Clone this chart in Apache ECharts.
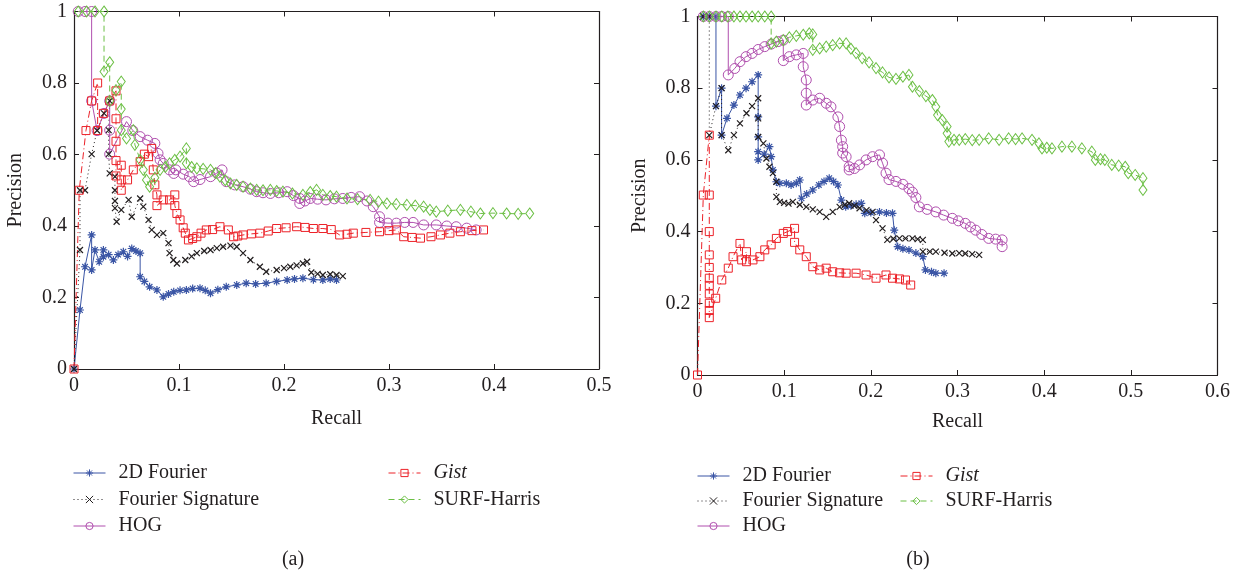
<!DOCTYPE html>
<html>
<head>
<meta charset="utf-8">
<script src="https://cdn.jsdelivr.net/npm/echarts@6/dist/echarts.min.js"></script>
<style>
  html, body { margin: 0; padding: 0; background: #fff; }
  #main { width: 1233px; height: 573px; }
</style>
</head>
<body>
<div id="main"></div>
<script>
// series names
var names = ['2D Fourier', 'Fourier Signature', 'HOG', 'Gist', 'SURF-Harris'];

// ---- (a) ---- [recall, precision]
var fourier2dA = [[0,0],[0.0057,0.165],[0.0105,0.286],[0.0168,0.375],[0.0168,0.277],[0.02,0.333],[0.024,0.3],[0.028,0.333],[0.028,0.314],[0.033,0.32],[0.0375,0.305],[0.042,0.32],[0.047,0.328],[0.051,0.315],[0.055,0.337],[0.059,0.33],[0.063,0.324],[0.063,0.258],[0.067,0.245],[0.072,0.23],[0.079,0.221],[0.085,0.202],[0.09,0.21],[0.095,0.216],[0.101,0.22],[0.107,0.221],[0.113,0.225],[0.12,0.226],[0.125,0.22],[0.13,0.212],[0.137,0.222],[0.145,0.23],[0.155,0.235],[0.164,0.24],[0.173,0.238],[0.183,0.24],[0.193,0.245],[0.203,0.249],[0.21,0.252],[0.218,0.254],[0.228,0.25],[0.237,0.249],[0.244,0.252],[0.25,0.249]];
var fourierSigA = [[0,0],[0.0057,0.333],[0.0057,0.5],[0.0105,0.5],[0.0168,0.601],[0.022,0.667],[0.0286,0.715],[0.034,0.75],[0.033,0.668],[0.033,0.601],[0.034,0.547],[0.039,0.538],[0.039,0.5],[0.039,0.47],[0.039,0.45],[0.0406,0.412],[0.045,0.445],[0.052,0.473],[0.055,0.426],[0.063,0.477],[0.066,0.454],[0.071,0.417],[0.074,0.389],[0.079,0.375],[0.085,0.38],[0.09,0.352],[0.091,0.324],[0.0946,0.305],[0.098,0.295],[0.106,0.305],[0.112,0.315],[0.117,0.324],[0.124,0.33],[0.13,0.333],[0.136,0.338],[0.142,0.342],[0.149,0.345],[0.155,0.342],[0.161,0.324],[0.168,0.305],[0.177,0.286],[0.183,0.272],[0.193,0.277],[0.2,0.282],[0.206,0.286],[0.212,0.29],[0.218,0.295],[0.222,0.3],[0.226,0.27],[0.232,0.266],[0.237,0.263],[0.244,0.265],[0.25,0.263],[0.256,0.26]];
var hogA = [[0.004,1],[0.0105,1],[0.0168,1],[0.0168,0.75],[0.022,0.667],[0.0286,0.715],[0.034,0.75],[0.034,0.668],[0.034,0.601],[0.05,0.692],[0.056,0.667],[0.063,0.65],[0.07,0.64],[0.077,0.631],[0.08,0.603],[0.082,0.585],[0.085,0.575],[0.091,0.557],[0.095,0.547],[0.097,0.557],[0.104,0.545],[0.11,0.538],[0.114,0.524],[0.12,0.53],[0.13,0.538],[0.136,0.548],[0.141,0.557],[0.145,0.524],[0.153,0.515],[0.161,0.51],[0.168,0.503],[0.174,0.496],[0.18,0.493],[0.187,0.491],[0.195,0.493],[0.203,0.496],[0.209,0.485],[0.215,0.477],[0.215,0.463],[0.22,0.47],[0.225,0.477],[0.232,0.475],[0.24,0.473],[0.248,0.476],[0.256,0.477],[0.264,0.48],[0.272,0.482],[0.279,0.47],[0.285,0.454],[0.291,0.426],[0.291,0.41],[0.299,0.408],[0.307,0.408],[0.315,0.41],[0.323,0.41],[0.333,0.403],[0.345,0.403],[0.355,0.4],[0.364,0.398],[0.374,0.394],[0.383,0.389]];
var gistA = [[0,0],[0.005,0.5],[0.0114,0.667],[0.0168,0.75],[0.0225,0.8],[0.0225,0.667],[0.028,0.715],[0.034,0.75],[0.04,0.778],[0.04,0.7],[0.04,0.637],[0.04,0.583],[0.04,0.54],[0.045,0.57],[0.045,0.529],[0.045,0.5],[0.051,0.529],[0.0565,0.557],[0.063,0.58],[0.067,0.601],[0.071,0.594],[0.074,0.617],[0.0755,0.557],[0.077,0.515],[0.079,0.487],[0.079,0.457],[0.085,0.473],[0.091,0.473],[0.096,0.487],[0.096,0.457],[0.098,0.435],[0.101,0.417],[0.104,0.395],[0.106,0.38],[0.109,0.361],[0.113,0.365],[0.117,0.37],[0.121,0.38],[0.126,0.389],[0.132,0.39],[0.139,0.398],[0.147,0.389],[0.152,0.37],[0.156,0.372],[0.161,0.375],[0.169,0.378],[0.177,0.38],[0.185,0.386],[0.193,0.393],[0.202,0.395],[0.212,0.398],[0.22,0.396],[0.228,0.393],[0.237,0.393],[0.245,0.39],[0.253,0.375],[0.26,0.377],[0.266,0.38],[0.278,0.382],[0.291,0.384],[0.3,0.387],[0.307,0.389],[0.314,0.37],[0.322,0.368],[0.33,0.366],[0.34,0.37],[0.349,0.375],[0.358,0.38],[0.368,0.384],[0.379,0.387],[0.39,0.389]];
var surfA = [[0.004,1],[0.012,1],[0.02,1],[0.0286,1],[0.0286,0.832],[0.034,0.858],[0.034,0.75],[0.04,0.78],[0.045,0.804],[0.045,0.727],[0.045,0.668],[0.05,0.645],[0.0565,0.668],[0.058,0.627],[0.063,0.585],[0.066,0.557],[0.069,0.529],[0.072,0.51],[0.077,0.535],[0.082,0.557],[0.087,0.565],[0.091,0.575],[0.096,0.585],[0.101,0.594],[0.107,0.617],[0.107,0.575],[0.112,0.565],[0.117,0.561],[0.123,0.56],[0.13,0.557],[0.135,0.548],[0.139,0.538],[0.144,0.528],[0.149,0.519],[0.155,0.515],[0.161,0.51],[0.168,0.505],[0.174,0.501],[0.18,0.5],[0.187,0.501],[0.193,0.498],[0.199,0.496],[0.208,0.491],[0.218,0.487],[0.225,0.495],[0.231,0.501],[0.237,0.487],[0.244,0.484],[0.25,0.482],[0.26,0.477],[0.27,0.475],[0.282,0.473],[0.29,0.468],[0.298,0.463],[0.307,0.461],[0.317,0.459],[0.325,0.457],[0.333,0.454],[0.339,0.445],[0.345,0.44],[0.356,0.443],[0.368,0.445],[0.378,0.44],[0.387,0.435],[0.399,0.436],[0.412,0.435],[0.423,0.434],[0.434,0.435]];

// ---- (b) ----
var fourier2dB = [[0.0067,1],[0.0136,1],[0.0213,1],[0.0213,0.75],[0.0278,0.8],[0.0278,0.669],[0.034,0.716],[0.042,0.753],[0.049,0.781],[0.056,0.8],[0.063,0.818],[0.07,0.837],[0.07,0.72],[0.07,0.664],[0.07,0.623],[0.07,0.6],[0.077,0.616],[0.083,0.637],[0.085,0.609],[0.087,0.572],[0.091,0.539],[0.095,0.535],[0.1025,0.535],[0.108,0.53],[0.114,0.535],[0.118,0.544],[0.12,0.493],[0.126,0.505],[0.133,0.516],[0.14,0.53],[0.146,0.54],[0.152,0.549],[0.157,0.54],[0.162,0.53],[0.166,0.488],[0.171,0.469],[0.177,0.472],[0.183,0.476],[0.189,0.479],[0.193,0.451],[0.2,0.453],[0.21,0.455],[0.218,0.452],[0.225,0.451],[0.227,0.404],[0.231,0.358],[0.237,0.352],[0.244,0.349],[0.252,0.34],[0.26,0.33],[0.263,0.293],[0.27,0.288],[0.275,0.284],[0.2845,0.284]];
var fourierSigB = [[0.0067,1],[0.0136,1],[0.0136,0.669],[0.0213,0.75],[0.0278,0.8],[0.0278,0.669],[0.0355,0.627],[0.042,0.669],[0.049,0.702],[0.0565,0.73],[0.063,0.75],[0.07,0.772],[0.07,0.716],[0.07,0.664],[0.076,0.646],[0.0795,0.604],[0.083,0.581],[0.087,0.563],[0.091,0.539],[0.091,0.497],[0.095,0.483],[0.1,0.48],[0.105,0.478],[0.11,0.483],[0.118,0.475],[0.1255,0.469],[0.133,0.462],[0.141,0.455],[0.1485,0.441],[0.156,0.455],[0.164,0.469],[0.17,0.475],[0.175,0.479],[0.181,0.472],[0.187,0.465],[0.195,0.46],[0.202,0.455],[0.206,0.432],[0.2135,0.409],[0.219,0.377],[0.226,0.38],[0.233,0.381],[0.24,0.381],[0.248,0.381],[0.254,0.379],[0.26,0.377],[0.26,0.344],[0.268,0.344],[0.275,0.344],[0.285,0.341],[0.294,0.339],[0.302,0.34],[0.309,0.339],[0.317,0.337],[0.325,0.335]];
var hogB = [[0.0067,1],[0.0136,1],[0.0213,1],[0.028,1],[0.0355,1],[0.0355,0.837],[0.043,0.855],[0.049,0.874],[0.056,0.888],[0.063,0.897],[0.07,0.908],[0.0776,0.916],[0.085,0.923],[0.093,0.93],[0.099,0.934],[0.099,0.877],[0.106,0.888],[0.114,0.893],[0.122,0.897],[0.122,0.86],[0.1255,0.823],[0.1255,0.786],[0.1255,0.753],[0.133,0.767],[0.141,0.772],[0.1485,0.758],[0.154,0.748],[0.162,0.72],[0.164,0.693],[0.166,0.655],[0.1675,0.637],[0.1675,0.619],[0.1715,0.609],[0.175,0.581],[0.175,0.572],[0.181,0.576],[0.187,0.586],[0.1945,0.6],[0.202,0.609],[0.21,0.614],[0.2135,0.591],[0.2175,0.563],[0.221,0.545],[0.229,0.54],[0.237,0.532],[0.244,0.52],[0.248,0.51],[0.252,0.495],[0.256,0.469],[0.265,0.462],[0.275,0.455],[0.284,0.446],[0.294,0.437],[0.301,0.43],[0.309,0.423],[0.315,0.413],[0.321,0.404],[0.328,0.392],[0.336,0.381],[0.344,0.379],[0.3515,0.377],[0.3515,0.358]];
var gistB = [[0,0],[0.0067,0.502],[0.0136,0.669],[0.0136,0.502],[0.0136,0.4],[0.0136,0.335],[0.0136,0.3],[0.0136,0.27],[0.0136,0.25],[0.0136,0.226],[0.0136,0.2],[0.0136,0.18],[0.0136,0.16],[0.021,0.214],[0.028,0.265],[0.0355,0.298],[0.041,0.33],[0.049,0.367],[0.051,0.321],[0.0565,0.344],[0.0565,0.316],[0.064,0.321],[0.072,0.33],[0.0776,0.349],[0.085,0.363],[0.091,0.381],[0.099,0.395],[0.104,0.4],[0.112,0.409],[0.112,0.37],[0.118,0.349],[0.1255,0.33],[0.133,0.302],[0.141,0.293],[0.1485,0.298],[0.156,0.288],[0.164,0.285],[0.1715,0.284],[0.183,0.284],[0.1945,0.279],[0.206,0.27],[0.2175,0.279],[0.225,0.27],[0.233,0.268],[0.24,0.265],[0.246,0.251]];
var surfB = [[0.0067,1],[0.0136,1],[0.0213,1],[0.028,1],[0.035,1],[0.042,1],[0.049,1],[0.056,1],[0.063,1],[0.07,1],[0.0776,1],[0.085,1],[0.085,0.925],[0.091,0.93],[0.099,0.934],[0.106,0.942],[0.114,0.946],[0.122,0.949],[0.129,0.953],[0.133,0.95],[0.133,0.907],[0.141,0.911],[0.1485,0.916],[0.156,0.92],[0.164,0.925],[0.1715,0.925],[0.177,0.91],[0.183,0.898],[0.19,0.884],[0.198,0.872],[0.206,0.856],[0.2135,0.844],[0.221,0.83],[0.229,0.826],[0.237,0.832],[0.244,0.837],[0.248,0.804],[0.256,0.792],[0.2635,0.778],[0.271,0.767],[0.275,0.748],[0.277,0.725],[0.2825,0.711],[0.288,0.693],[0.288,0.674],[0.29,0.651],[0.296,0.656],[0.302,0.656],[0.309,0.658],[0.317,0.655],[0.325,0.656],[0.336,0.66],[0.348,0.656],[0.359,0.66],[0.367,0.658],[0.3745,0.66],[0.386,0.656],[0.394,0.646],[0.3975,0.632],[0.403,0.634],[0.409,0.632],[0.4205,0.637],[0.432,0.637],[0.4435,0.632],[0.455,0.623],[0.459,0.6],[0.465,0.602],[0.47,0.6],[0.478,0.586],[0.486,0.584],[0.4935,0.581],[0.497,0.563],[0.505,0.558],[0.514,0.549],[0.514,0.516]];

var FONT = '"Liberation Serif", "DejaVu Serif", serif';
var INK = '#231f20';
var FS = 20;

// look of each method (matlab-like markers)
var looks = {
    '2D Fourier':        { color: '#3a55a5', symbol: 'path://M5,0L5,10M0,5L10,5M1.5,1.5L8.5,8.5M8.5,1.5L1.5,8.5', size: 8, dash: 'solid' },
    'Fourier Signature': { color: '#231f20', symbol: 'path://M0,0L10,10M10,0L0,10', size: 6, dash: [1, 3] },
    'HOG':               { color: '#b04fae', symbol: 'circle', size: 10, dash: 'solid' },
    'Gist':              { color: '#ec2229', symbol: 'rect', size: 8, dash: [7, 3, 1, 3] },
    'SURF-Harris':       { color: '#6bbf44', symbol: 'diamond', size: [8, 11], dash: [6, 4] }
};

function mkSeries(name, data, g) {
    var lk = looks[name];
    var path = lk.symbol.indexOf('path://') === 0;
    return {
        name: name,
        type: 'line',
        xAxisIndex: g * 2,
        yAxisIndex: g * 2,
        data: data,
        symbol: lk.symbol,
        symbolSize: lk.size,
        showAllSymbol: true,
        clip: false,
        lineStyle: { color: lk.color, width: 1, type: lk.dash },
        itemStyle: {
            color: path ? lk.color : 'rgba(0,0,0,0)',
            borderColor: lk.color,
            borderWidth: path ? 1.2 : 1
        },
        emphasis: { disabled: true }
    };
}

var grids = [
    { left: 74, top: 11.5, width: 525, height: 357.5 },
    { left: 697.5, top: 16.5, width: 522, height: 358.5 }
];
var xMax = [0.5, 0.6];
var nameGapX = [40, 37];

var xAxes = [], yAxes = [];
grids.forEach(function (gr, g) {
    var common = {
        gridIndex: g, type: 'value', min: 0, interval: 0.1,
        axisLine: { show: true, onZero: false, lineStyle: { color: INK, width: 1.2 } },
        axisTick: { show: true, inside: true, length: 5, lineStyle: { color: INK, width: 1 } },
        splitLine: { show: false }
    };
    xAxes.push(Object.assign({}, common, {
        max: xMax[g], position: 'bottom',
        name: 'Recall', nameLocation: 'middle', nameGap: nameGapX[g],
        nameTextStyle: { fontFamily: FONT, fontSize: FS, color: INK },
        axisLabel: { fontFamily: FONT, fontSize: FS, color: INK, margin: 7 }
    }));
    xAxes.push(Object.assign({}, common, {
        max: xMax[g], position: 'top', axisLabel: { show: false }
    }));
    yAxes.push(Object.assign({}, common, {
        max: 1, interval: 0.2, position: 'left',
        name: 'Precision', nameLocation: 'middle', nameGap: 48,
        nameTextStyle: { fontFamily: FONT, fontSize: FS, color: INK },
        axisLabel: { fontFamily: FONT, fontSize: FS, color: INK, margin: 7 }
    }));
    yAxes.push(Object.assign({}, common, {
        max: 1, interval: 0.2, position: 'right', axisLabel: { show: false }
    }));
});

var seriesA = [fourier2dA, fourierSigA, hogA, gistA, surfA];
var seriesB = [fourier2dB, fourierSigB, hogB, gistB, surfB];
var series = [];
names.forEach(function (n, i) { series.push(mkSeries(n, seriesA[i], 0)); });
names.forEach(function (n, i) { series.push(mkSeries(n, seriesB[i], 1)); });

function mkLegend(data, left, top, gap) {
    return {
        data: data, left: left, top: top, orient: 'vertical',
        padding: 0,
        itemWidth: 32, itemHeight: 9, itemGap: gap,
        selectedMode: false,
        lineStyle: { width: 1 },
        itemStyle: { borderWidth: 1 },
        textStyle: {
            fontFamily: FONT, fontSize: FS, color: INK, lineHeight: 20, padding: [0, 0, 0, 8],
            rich: { it: { fontFamily: FONT, fontSize: FS, fontStyle: 'italic', color: INK } }
        },
        formatter: function (n) { return n === 'Gist' ? '{it|Gist}' : n; }
    };
}

var myChart = echarts.init(document.getElementById('main'));
myChart.setOption({
    animation: false,
    backgroundColor: '#fff',
    grid: grids,
    xAxis: xAxes,
    yAxis: yAxes,
    legend: [
        mkLegend(['2D Fourier', 'Fourier Signature', 'HOG'], 73, 463, 6.5),
        mkLegend(['Gist', 'SURF-Harris'], 388, 463, 6.5),
        mkLegend(['2D Fourier', 'Fourier Signature', 'HOG'], 697, 466, 5),
        mkLegend(['Gist', 'SURF-Harris'], 900, 466, 5)
    ],
    title: [
        { text: '(a)', left: 288, top: 545, textAlign: 'center', textStyle: { fontFamily: FONT, fontSize: FS, fontWeight: 'normal', color: INK } },
        { text: '(b)', left: 913, top: 545, textAlign: 'center', textStyle: { fontFamily: FONT, fontSize: FS, fontWeight: 'normal', color: INK } }
    ],
    series: series
});
</script>
</body>
</html>
